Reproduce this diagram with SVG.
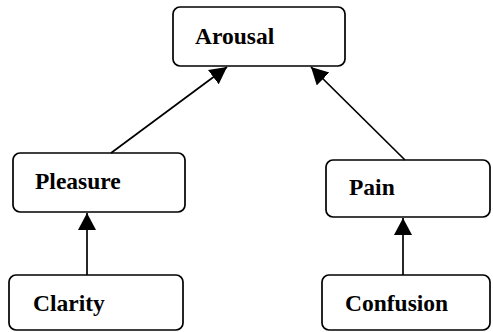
<svg xmlns="http://www.w3.org/2000/svg" width="493" height="332" viewBox="0 0 493 332">
<style>
.box{fill:#fff;stroke:#000;stroke-width:1.7}
.lbl{font-family:"Liberation Serif","Times New Roman",serif;font-weight:bold;font-size:23.5px;fill:#000}
.edge{stroke:#000;stroke-width:1.7;fill:none;marker-end:url(#ah)}
</style>
<defs>
<marker id="ah" markerUnits="userSpaceOnUse" markerWidth="20" markerHeight="20" refX="17" refY="9" orient="auto">
<path d="M0,0 L17,9 L0,18 Z" fill="#000"/>
</marker>
</defs>
<g id="arousal"><rect class="box" x="173" y="7" width="172" height="59" rx="7"/><text class="lbl" x="195" y="44">Arousal</text></g>
<g id="pleasure"><rect class="box" x="13" y="153" width="172" height="59" rx="7"/><text class="lbl" x="35" y="189">Pleasure</text></g>
<g id="pain"><rect class="box" x="326" y="160" width="164" height="57" rx="7"/><text class="lbl" x="349" y="195">Pain</text></g>
<g id="clarity"><rect class="box" x="9" y="275" width="174" height="55" rx="7"/><text class="lbl" x="33" y="311">Clarity</text></g>
<g id="confusion"><rect class="box" x="322" y="275" width="168" height="55" rx="7"/><text class="lbl" x="345" y="311">Confusion</text></g>
<g id="connectors">
<line class="edge" x1="111" y1="153" x2="227" y2="67"/>
<line class="edge" x1="405" y1="160" x2="311" y2="67"/>
<line class="edge" x1="87" y1="275" x2="87" y2="213"/>
<line class="edge" x1="403" y1="275" x2="403" y2="218"/>
</g>
</svg>
